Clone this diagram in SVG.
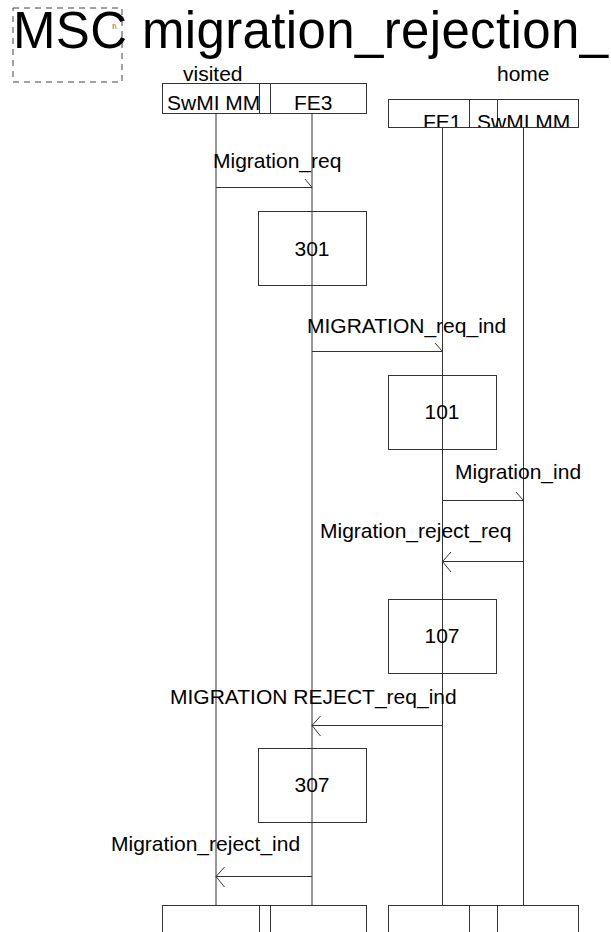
<svg xmlns="http://www.w3.org/2000/svg" width="611" height="932" viewBox="0 0 611 932">
<style>
text{font-family:"Liberation Sans",Arial,sans-serif;font-size:21px;fill:#000}
.title{font-size:51px}
.box{fill:none;stroke:#333;stroke-width:1}
.life{stroke:#333;stroke-width:1}
.msg{stroke:#333;stroke-width:1;fill:none}
.num{text-anchor:middle}
</style>
<defs>
<clipPath id="clipR"><rect x="388" y="99" width="190" height="28"/></clipPath>
</defs>
<rect width="611" height="932" fill="#fff"/>
<g id="frame">
<rect x="13" y="8" width="109" height="74" fill="none" stroke="#444" stroke-dasharray="6,5"/>
<text x="13" y="48" class="title" textLength="595" lengthAdjust="spacing">MSC migration_rejection_</text>
<text x="112" y="29" style="font-size:8px;fill:#555">I\</text>
</g>
<g id="visited">
<text x="183" y="81">visited</text>
<rect class="box" x="162.5" y="83.5" width="204" height="30"/>
<rect class="box" x="259.5" y="83.5" width="11" height="30"/>
<text x="167" y="110">SwMI MM</text>
<text x="294" y="110">FE3</text>
</g>
<g id="home">
<text x="497" y="81">home</text>
<rect class="box" x="388.5" y="99.5" width="190" height="28"/>
<rect class="box" x="469.5" y="99.5" width="28" height="28"/>
<g clip-path="url(#clipR)">
<text x="423" y="129">FE1</text>
<text x="477" y="129">SwMI MM</text>
</g>
</g>
<g id="lifelines">
<line class="life" x1="216" y1="113" x2="216" y2="905"/>
<line class="life" x1="312" y1="113" x2="312" y2="905"/>
<line class="life" x1="442.5" y1="127" x2="442.5" y2="905"/>
<line class="life" x1="523.5" y1="127" x2="523.5" y2="905"/>
</g>
<g id="connectors">
<path class="msg" d="M216 187.5H312M305 179L312 187.5"/>
<text x="213" y="168">Migration_req</text>
<path class="msg" d="M312 351.5H442.5M435 343L442.5 351.5"/>
<text x="307" y="333">MIGRATION_req_ind</text>
<path class="msg" d="M442.5 500.5H523.5M516 492L523.5 500.5"/>
<text x="455" y="479">Migration_ind</text>
<path class="msg" d="M523.5 561.5H442.5M451 552L442.5 561.5L451 572"/>
<text x="320" y="538">Migration_reject_req</text>
<path class="msg" d="M442.5 725.5H312M320.5 716L312 725.5L320.5 736"/>
<text x="170" y="704">MIGRATION REJECT_req_ind</text>
<path class="msg" d="M312 876.5H216M224.5 867L216 876.5L224.5 887"/>
<text x="111" y="851">Migration_reject_ind</text>
</g>
<g id="a301">
<rect class="box" x="258.5" y="211.5" width="108" height="74"/>
<text x="312" y="256" class="num">301</text>
</g>
<g id="a101">
<rect class="box" x="388.5" y="375.5" width="108" height="74"/>
<text x="442" y="419" class="num">101</text>
</g>
<g id="a107">
<rect class="box" x="388.5" y="599.5" width="108" height="74"/>
<text x="442" y="643" class="num">107</text>
</g>
<g id="a307">
<rect class="box" x="258.5" y="748.5" width="108" height="74"/>
<text x="312" y="792" class="num">307</text>
</g>
<g id="endLeft">
<rect class="box" x="162.5" y="905.5" width="204" height="40"/>
<rect class="box" x="259.5" y="905.5" width="11" height="40"/>
</g>
<g id="endRight">
<rect class="box" x="388.5" y="905.5" width="190" height="40"/>
<rect class="box" x="469.5" y="905.5" width="28" height="40"/>
</g>
</svg>
